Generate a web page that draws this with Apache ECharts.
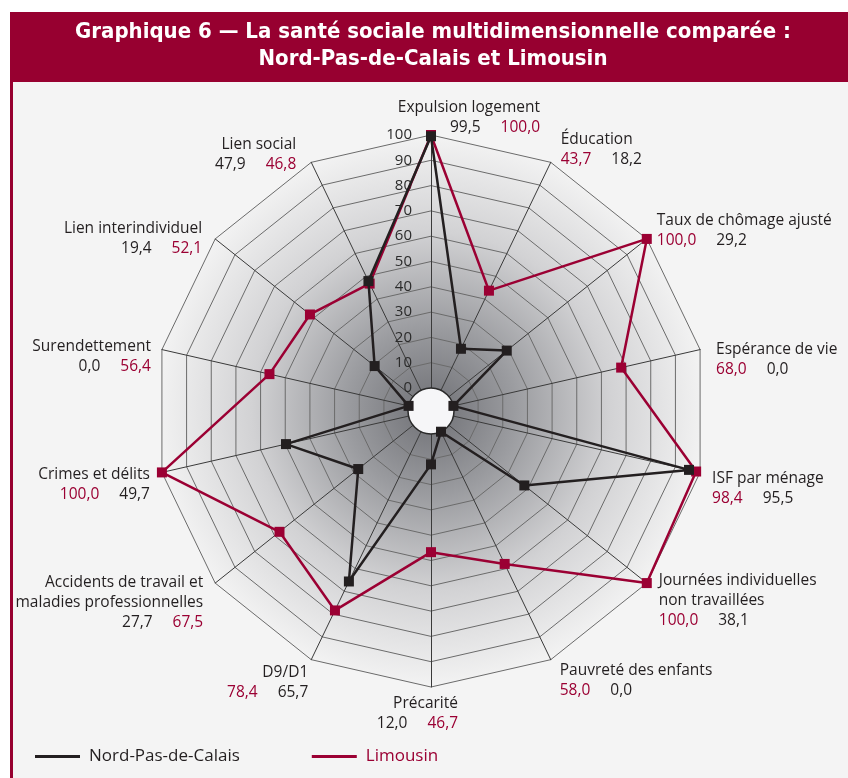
<!DOCTYPE html>
<html><head><meta charset="utf-8">
<script src="https://cdn.jsdelivr.net/npm/echarts@6/dist/echarts.min.js"></script>
<style>html,body{margin:0;padding:0;background:#fff}#c{width:848px;height:778px}</style>
</head><body><div id="c"></div>
<script>
// ---- data (clockwise from top, as read on the chart) ----
const categories = ['Expulsion logement','Éducation','Taux de chômage ajusté','Espérance de vie','ISF par ménage','Journées individuelles\nnon travaillées','Pauvreté des enfants','Précarité','D9/D1','Accidents de travail et\nmaladies professionnelles','Crimes et délits','Surendettement','Lien interindividuel','Lien social'];
const nordValues = [99.5, 18.2, 29.2, 0.0, 95.5, 38.1, 0.0, 12.0, 65.7, 27.7, 49.7, 0.0, 19.4, 47.9];
const limousinValues = [100.0, 43.7, 100.0, 68.0, 98.4, 100.0, 58.0, 46.7, 78.4, 67.5, 100.0, 56.4, 52.1, 46.8];
const limousinFirst = [false, true, true, true, true, true, true, false, true, false, true, false, false, false];
const seriesNames = ['Nord-Pas-de-Calais', 'Limousin'];
const axisMin = 0, axisMax = 100, axisSplits = 10;
const titleText = 'Graphique 6 — La santé sociale multidimensionnelle comparée :\nNord-Pas-de-Calais et Limousin';

// ---- layout / style ----
const CX = 431, CY = 411, R0 = 23, R1 = 276;
const RED = '#9b0033', DARK = '#231f20';
const FONT = 'Open Sans';
// [align, horizontal edge offset from vertex, top offset from vertex]
const labelLayout = [
  ['right', 109, -37], ['left', 10, -33], ['left', 10, -28], ['left', 16, -10], ['left', 12, -4],
  ['left', 12, -13], ['left', 9, 1], ['right', 27, 7], ['right', -3, 3], ['right', -12, -11],
  ['right', -12, -8], ['right', -11, -13], ['right', -13, -20], ['right', -15, -28]
];

const fmt = v => v.toFixed(1).replace('.', ',');
function labelText(i) {
  const nv = fmt(nordValues[i]), lv = fmt(limousinValues[i]);
  const vals = limousinFirst[i] ? `{l|${lv}}{n2|${nv}}` : `{n|${nv}}{l2|${lv}}`;
  return categories[i].split('\n').map(s => `{t|${s}}`).join('\n') + '\n' + vals;
}
// ECharts places indicators counter-clockwise: reorder
const order = [0];
for (let i = categories.length - 1; i >= 1; i--) order.push(i);

const indicators = order.map((i, k) => {
  const [al, dx, dy] = labelLayout[i];
  const pad = al === 'left' ? [dy, 0, 0, dx] : [dy, -dx, 0, 0];
  const ind = {
    name: labelText(i), min: axisMin, max: axisMax, nameMoveOverlap: false,
    nameTextStyle: { align: al, verticalAlign: 'top', padding: pad }
  };
  if (k === 0) ind.axisLabel = {
    show: true, color: '#2b2b2b', fontSize: 15, fontFamily: FONT,
    margin: 6, align: 'right', verticalAlign: 'middle', padding: [0, 13, 14, 0]
  };
  return ind;
});

const chart = echarts.init(document.getElementById('c'), null, { renderer: 'canvas' });
chart.setOption({
  animation: false,
  backgroundColor: '#ffffff',
  title: {
    text: titleText, left: 433, top: 19, textAlign: 'center', padding: 0,
    textStyle: { color: '#ffffff', fontSize: 22, fontWeight: 'bold', fontFamily: 'DejaVu Sans Condensed, Liberation Sans', lineHeight: 27 }
  },
  legend: {
    left: 35, top: 748, padding: 0, itemWidth: 45, itemHeight: 3, itemGap: 72, icon: 'rect',
    textStyle: { fontSize: 17, fontFamily: FONT, padding: [0, 0, 0, 4] },
    data: [
      { name: seriesNames[0], textStyle: { color: DARK } },
      { name: seriesNames[1], textStyle: { color: RED } }
    ]
  },
  graphic: [
    { type: 'rect', z: -10, shape: { x: 10, y: 12, width: 850, height: 780 }, style: { fill: '#f4f4f4' } },
    { type: 'rect', z: -5, shape: { x: 10, y: 12, width: 850, height: 70 }, style: { fill: '#970030' } },
    { type: 'rect', z: -5, shape: { x: 10, y: 80, width: 3, height: 700 }, style: { fill: '#970030' } },
    { type: 'circle', z: 1, shape: { cx: CX, cy: CY, r: R0 }, style: { fill: '#f6f6f8', stroke: '#2a2a2a', lineWidth: 1.5 } }
  ],
  radar: {
    center: [CX, CY], radius: [R0, R1], startAngle: 90, splitNumber: axisSplits, shape: 'polygon',
    axisNameGap: 0,
    axisName: {
      color: DARK, fontSize: 15.5, fontFamily: FONT,
      rich: {
        t: { color: DARK, fontSize: 15.5, fontFamily: FONT, lineHeight: 20 },
        n: { color: DARK, fontSize: 15.5, fontFamily: FONT, lineHeight: 20 },
        n2: { color: DARK, fontSize: 15.5, fontFamily: FONT, lineHeight: 20, padding: [0, 0, 0, 20] },
        l: { color: RED, fontSize: 15.5, fontFamily: FONT, lineHeight: 20 },
        l2: { color: RED, fontSize: 15.5, fontFamily: FONT, lineHeight: 20, padding: [0, 0, 0, 20] }
      }
    },
    axisLine: { lineStyle: { color: '#3a3a3a', width: 1 } },
    axisTick: { show: false },
    axisLabel: { show: false },
    splitLine: { lineStyle: { color: '#6b6b6b', width: 1 } },
    splitArea: {
      areaStyle: {
        color: [{
          type: 'radial', x: CX, y: CY, r: R1, global: true,
          colorStops: [
            { offset: 0, color: '#6f7075' }, { offset: 0.3, color: '#9a9b9f' },
            { offset: 0.65, color: '#d2d2d4' }, { offset: 1, color: '#f3f3f3' }
          ]
        }]
      }
    },
    indicator: indicators
  },
  series: [
    {
      type: 'radar', name: seriesNames[1], z: 2, symbol: 'rect', symbolSize: 10,
      lineStyle: { color: RED, width: 2.5 }, itemStyle: { color: RED },
      data: [{ name: seriesNames[1], value: order.map(i => limousinValues[i]) }]
    },
    {
      type: 'radar', name: seriesNames[0], z: 3, symbol: 'rect', symbolSize: 10,
      lineStyle: { color: DARK, width: 2.5 }, itemStyle: { color: DARK },
      data: [{ name: seriesNames[0], value: order.map(i => nordValues[i]) }]
    }
  ]
});
</script></body></html>
